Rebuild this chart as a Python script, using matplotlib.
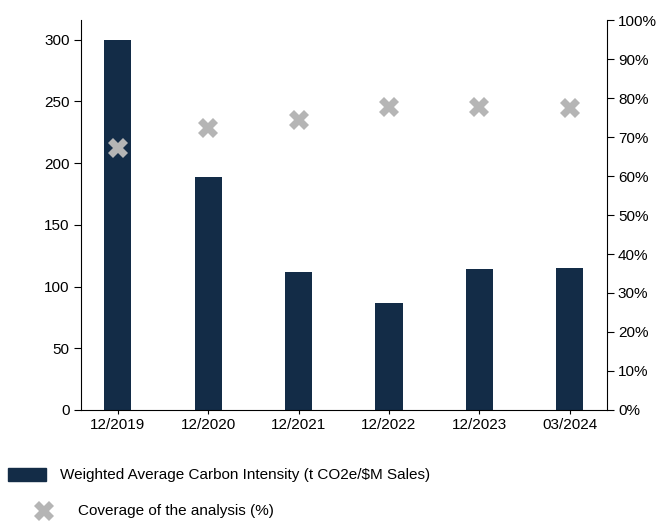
import matplotlib
matplotlib.use("Agg")
import matplotlib.pyplot as plt
from matplotlib.patches import Rectangle
from matplotlib.lines import Line2D
from matplotlib.ticker import FuncFormatter

plt.rcParams['font.family'] = ['Liberation Sans', 'DejaVu Sans']

categories = ["12/2019", "12/2020", "12/2021", "12/2022", "12/2023", "03/2024"]
intensity = [300, 189, 112, 87, 114, 115]
coverage = [67.3, 72.2, 74.4, 77.8, 77.8, 77.4]

bar_color = "#132c47"
marker_color = "#b5b5b5"
fs = 11

fig = plt.figure(figsize=(6.56, 5.22), dpi=100)
ax = fig.add_axes([0.123, 0.2146, 0.802, 0.747])
x = list(range(len(categories)))
ax.bar(x, intensity, width=0.3, color=bar_color, zorder=2)
ax.set_xlim(-0.41, len(categories) - 1 + 0.41)
ax.set_ylim(0, 316)
ax.set_yticks([0, 50, 100, 150, 200, 250, 300])
ax.set_xticks(x)
ax.set_xticklabels(categories)
for s in ["top", "right"]:
    ax.spines[s].set_visible(False)
ax.tick_params(axis='both', labelsize=fs, colors='black', width=0.8)
ax.tick_params(axis='y', length=5, pad=3)
ax.tick_params(axis='x', length=3, pad=3)

ax2 = ax.twinx()
ax2.plot(x, coverage, linestyle='none', marker='X', markersize=15,
         color=marker_color, markeredgewidth=0, zorder=3)
ax2.set_ylim(0, 100)
ax2.set_yticks(range(0, 101, 10))
ax2.yaxis.set_major_formatter(FuncFormatter(lambda v, p: f"{int(v)}%"))
for s in ["top", "left", "bottom"]:
    ax2.spines[s].set_visible(False)
ax2.tick_params(axis='y', labelsize=fs, length=5, width=0.8, pad=3)

W, H = 656, 522
fig.add_artist(Rectangle((8 / W, 1 - 481 / H), 38 / W, 13 / H,
                         transform=fig.transFigure, color=bar_color))
fig.text(60 / W, 1 - 475 / H, "Weighted Average Carbon Intensity (t CO2e/$M Sales)",
         fontsize=fs, va='center', ha='left')
fig.add_artist(Line2D([44 / W], [1 - 511 / H], transform=fig.transFigure,
                      marker='X', markersize=15, color=marker_color,
                      markeredgewidth=0, linestyle='none'))
fig.text(78 / W, 1 - 511 / H, "Coverage of the analysis (%)",
         fontsize=fs, va='center', ha='left')

fig.savefig("out.png", dpi=100)
